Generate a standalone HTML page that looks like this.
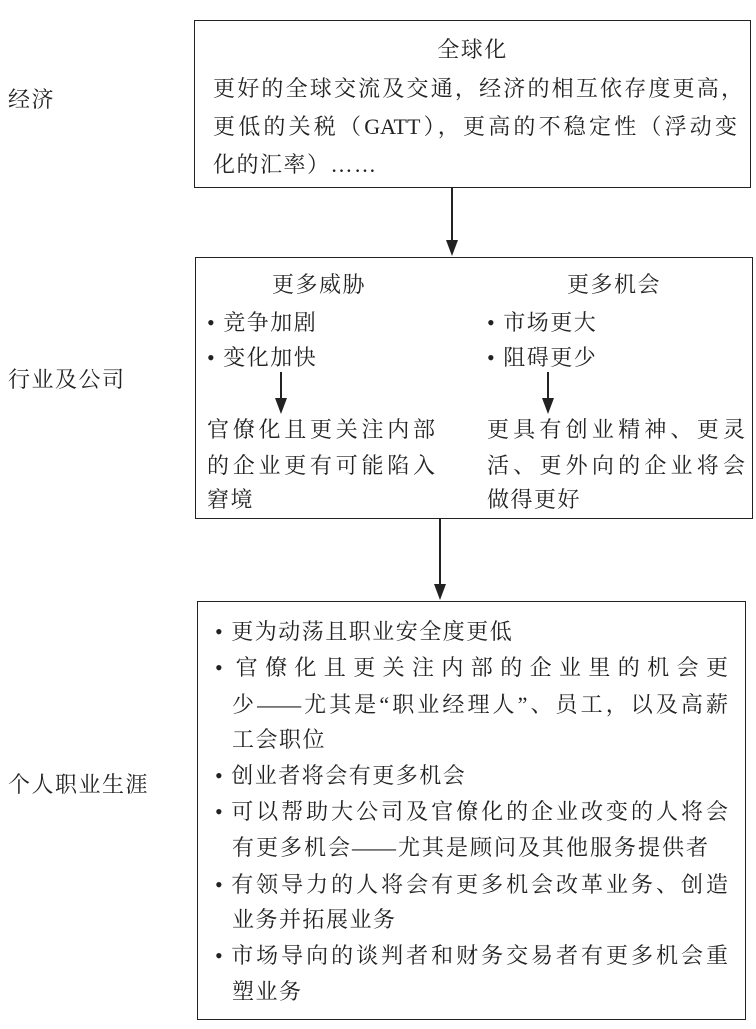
<!DOCTYPE html>
<html><head><meta charset="utf-8"><style>
body{margin:0;width:756px;height:1029px;background:#fff;position:relative;overflow:hidden;font-family:"Liberation Serif","Noto Serif CJK SC",serif;color:#222}
.b{position:absolute;border:1.5px solid #222;box-sizing:border-box}
.t{position:absolute;font-size:22px;line-height:28px;white-space:nowrap;letter-spacing:1.5px}
.j{text-align:justify;text-align-last:justify;letter-spacing:0}
.v{position:absolute;width:1.5px;background:#222}
.ah{position:absolute;width:0;height:0;border-left:6px solid transparent;border-right:6px solid transparent;border-top:16px solid #222}
</style></head><body>
<div class="t" style="left:8px;top:86px">经济</div>
<div class="t" style="left:8px;top:366px">行业及公司</div>
<div class="t" style="left:8px;top:771px">个人职业生涯</div>

<div class="b" style="left:194px;top:20px;width:557px;height:168px"></div>
<div class="t" style="left:194px;width:557px;text-align:center;top:36px">全球化</div>
<div class="t j" style="left:213px;width:530px;top:75px">更好的全球交流及交通，经济的相互依存度更高，</div>
<div class="t j" style="left:213px;width:524px;top:113px">更低的关税（GATT），更高的不稳定性（浮动变</div>
<div class="t" style="left:213px;top:151px">化的汇率）……</div>

<div class="v" style="left:451px;top:188px;height:56px"></div>
<div class="ah" style="left:446px;top:240px"></div>

<div class="b" style="left:195px;top:257px;width:558px;height:262px"></div>
<div class="t" style="left:272px;top:271px">更多威胁</div>
<div class="t" style="left:567px;top:271px">更多机会</div>
<div class="t" style="left:207px;top:309px">• 竞争加剧</div>
<div class="t" style="left:207px;top:344px">• 变化加快</div>
<div class="t" style="left:487px;top:309px">• 市场更大</div>
<div class="t" style="left:487px;top:344px">• 阻碍更少</div>
<div class="v" style="left:280px;top:372px;height:30px"></div>
<div class="ah" style="left:275px;top:398px"></div>
<div class="v" style="left:547px;top:372px;height:30px"></div>
<div class="ah" style="left:542px;top:398px"></div>
<div class="t j" style="left:207px;width:228px;top:416px">官僚化且更关注内部</div>
<div class="t j" style="left:207px;width:228px;top:452px">的企业更有可能陷入</div>
<div class="t" style="left:207px;top:486px">窘境</div>
<div class="t j" style="left:487px;width:258px;top:416px">更具有创业精神、更灵</div>
<div class="t j" style="left:487px;width:258px;top:452px">活、更外向的企业将会</div>
<div class="t" style="left:487px;top:486px">做得更好</div>

<div class="v" style="left:439px;top:519px;height:66px"></div>
<div class="ah" style="left:434px;top:584px"></div>

<div class="b" style="left:197px;top:601px;width:549px;height:419px"></div>
<div class="t" style="left:215px;top:618px">• 更为动荡且职业安全度更低</div>
<div class="t j" style="left:215px;width:513px;top:654px">• 官僚化且更关注内部的企业里的机会更</div>
<div class="t j" style="left:232px;width:496px;top:691px">少——尤其是“职业经理人”、员工，以及高薪</div>
<div class="t" style="left:232px;top:726px">工会职位</div>
<div class="t" style="left:215px;top:762px">• 创业者将会有更多机会</div>
<div class="t j" style="left:215px;width:513px;top:798px">• 可以帮助大公司及官僚化的企业改变的人将会</div>
<div class="t j" style="left:232px;width:476px;top:834px">有更多机会——尤其是顾问及其他服务提供者</div>
<div class="t j" style="left:215px;width:513px;top:871px">• 有领导力的人将会有更多机会改革业务、创造</div>
<div class="t" style="left:232px;top:906px">业务并拓展业务</div>
<div class="t j" style="left:215px;width:513px;top:942px">• 市场导向的谈判者和财务交易者有更多机会重</div>
<div class="t" style="left:232px;top:978px">塑业务</div>
</body></html>
